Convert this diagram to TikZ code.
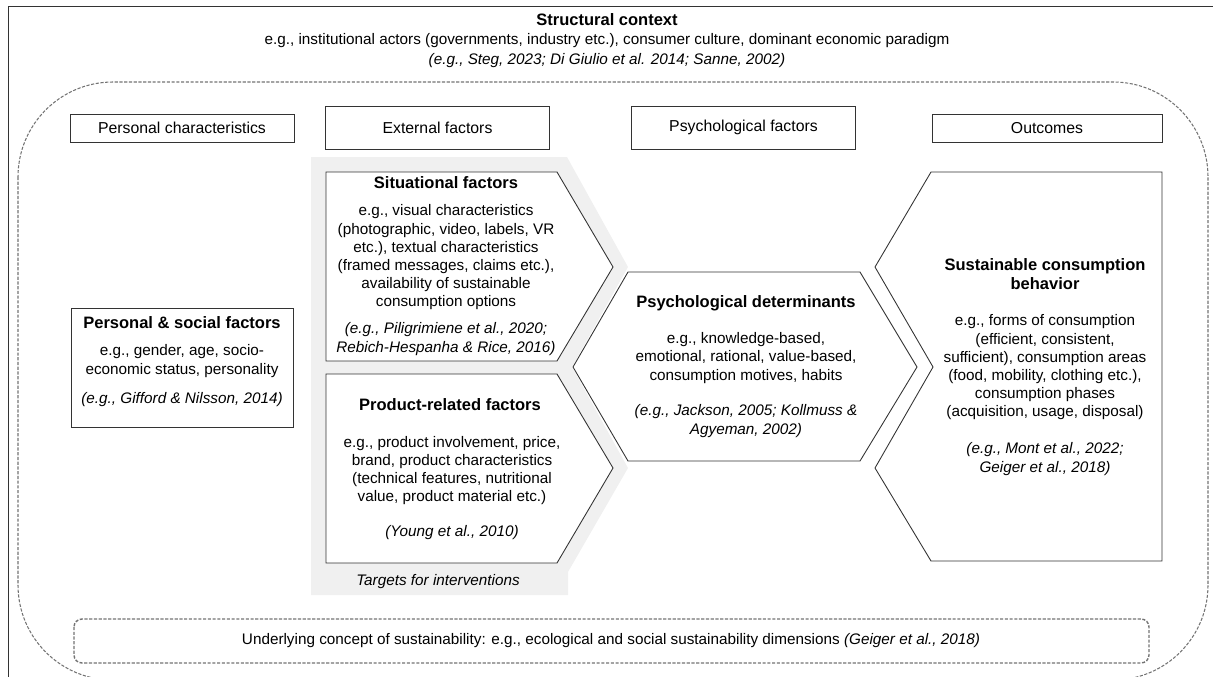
\documentclass[tikz,border=0pt]{standalone}
\usepackage{fontspec}
\setmainfont{Liberation Sans}
\definecolor{targetgray}{gray}{0.94}
\definecolor{lineblack}{gray}{0.2}
\definecolor{dashgray}{gray}{0.45}

\begin{document}
\begin{tikzpicture}[x=0.02cm,y=-0.02cm,
    every node/.style={font=\fontsize{8.7}{10.35}\selectfont,align=center,inner sep=0pt},
    shapeline/.style={line width=0.5pt,draw=lineblack},
    headbox/.style={shapeline,font=\fontsize{9}{10.35}\selectfont,minimum width=4.48cm,minimum height=0.56cm},
    bighead/.style={headbox,minimum height=0.86cm},
    ttl/.style={font=\fontsize{9.4}{10.8}\selectfont\bfseries},
    cite/.style={font=\fontsize{8.7}{10.35}\selectfont\itshape}]

    \useasboundingbox (0,0) rectangle (1213,676);
    \clip (0,0) rectangle (1213,676);

    % structural context frame
    \draw[shapeline] (8,6) rectangle (1240,720);
    \node[ttl] (struct) at (607,20) {Structural context};
    \node (structeg) at (607,41) {e.g., institutional actors (governments, industry etc.), consumer culture, dominant economic paradigm};
    \node[cite] (structcite) at (607,61) {(e.g., Steg, 2023; Di Giulio et al. 2014; Sanne, 2002)};

    % dashed inner frame
    \draw[dashgray,line width=0.6pt,dash pattern=on 1.8pt off 0.9pt,rounded corners=1.9cm] (18,82) rectangle (1208,680);

    % column heads
    \node[headbox] (perschar) at (182,128) {Personal characteristics};
    \node[bighead] (extfac) at (437.5,127.5) {External factors};
    \node[bighead] (psyfac) at (743.5,127.5) {Psychological factors};
    \node[headbox,minimum width=4.6cm] (outc) at (1047,128) {Outcomes};

    % personal & social factors
    \draw[shapeline] (71,308) rectangle (293,427);
    \node[ttl] (persttl) at (182,323) {Personal \& social factors};
    \node (perseg) at (182,361) {e.g., gender, age, socio-\\economic status, personality};
    \node[cite] (perscite) at (182,400) {(e.g., Gifford \& Nilsson, 2014)};

    % targets for interventions
    \fill[targetgray] (311,157) -- (567,157) -- (628,267) -- (572,367) -- (628,468)
        -- (568,572) -- (568,595) -- (311,595) -- cycle;
    \node[cite] (targets) at (438,582) {Targets for interventions};

    % situational factors
    \draw[shapeline,fill=white] (326,172) -- (557,172) -- (613,267) -- (557,361) -- (326,361) -- cycle;
    \node[ttl] (sitttl) at (446,183) {Situational factors};
    \node (siteg) at (446,257.5) {e.g., visual characteristics\\(photographic, video, labels, VR\\etc.), textual characteristics\\(framed messages, claims etc.),\\availability of sustainable\\consumption options};
    \node[cite] (sitcite) at (446,339) {(e.g., Piligrimiene et al., 2020;\\Rebich-Hespanha \& Rice, 2016)};

    % product-related factors
    \draw[shapeline,fill=white] (326,374) -- (557,374) -- (613,468) -- (557,563) -- (326,563) -- cycle;
    \node[ttl] (prodttl) at (450,405) {Product-related factors};
    \node (prodeg) at (452,470.5) {e.g., product involvement, price,\\brand, product characteristics\\(technical features, nutritional\\value, product material etc.)};
    \node[cite] (prodcite) at (452,533) {(Young et al., 2010)};

    % psychological determinants
    \draw[shapeline] (628,272) -- (860,272) -- (917,367) -- (860,461) -- (628,461) -- (573,367) -- cycle;
    \node[ttl] (psyttl) at (746,303) {Psychological determinants};
    \node (psyeg) at (746,358) {e.g., knowledge-based,\\emotional, rational, value-based,\\consumption motives, habits};
    \node[cite] (psycite) at (746,421) {(e.g., Jackson, 2005; Kollmuss \&\\Agyeman, 2002)};

    % sustainable consumption behavior
    \draw[shapeline] (931,172) -- (1162,172) -- (1162,561) -- (931,561) -- (875,468)
        -- (933,367) -- (875,267) -- cycle;
    \node[ttl] (sustttl) at (1045,274.5) {Sustainable consumption\\behavior};
    \node (susteg) at (1045,367.5) {e.g., forms of consumption\\(efficient, consistent,\\sufficient), consumption areas\\(food, mobility, clothing etc.),\\consumption phases\\(acquisition, usage, disposal)};
    \node[cite] (sustcite) at (1045,459) {(e.g., Mont et al., 2022;\\Geiger et al., 2018)};

    % underlying concept
    \draw[dashgray,line width=0.8pt,dash pattern=on 1.8pt off 0.9pt,rounded corners=0.16cm] (74,619) rectangle (1149,663);
    \node (concept) at (611,641) {Underlying concept of sustainability: e.g., ecological and social sustainability dimensions \textit{(Geiger et al., 2018)}};

\end{tikzpicture}
\end{document}
